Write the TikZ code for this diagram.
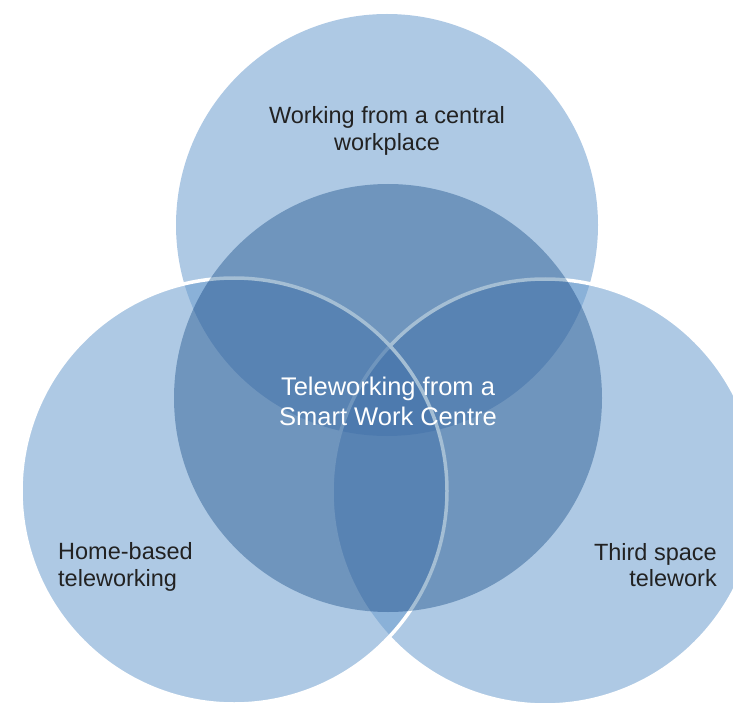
\documentclass[tikz,border=0pt]{standalone}
\usepackage{fontspec}
\setmainfont{Liberation Sans}
\definecolor{outerc}{RGB}{108,157,206}
\definecolor{centerc}{RGB}{164,190,212}
\definecolor{labelc}{RGB}{34,34,34}
\begin{document}
\begin{tikzpicture}[x=1pt,y=-1pt,
  outer/.style={circle, inner sep=0pt, minimum size=426pt, fill=outerc, fill opacity=0.55},
  ring/.style={draw=white, line width=3.5pt},
  centre/.style={circle, inner sep=0pt, minimum size=428pt, fill=centerc},
  lbl/.style={text=labelc, font=\fontsize{23.5}{26.5}\selectfont, inner sep=0pt},
  clbl/.style={text=white, font=\fontsize{25.5}{30}\selectfont, inner sep=0pt, align=center}]
\useasboundingbox (0,0) rectangle (733,703);
\node[outer, minimum size=422pt] (work) at (387,225) {};
\node[outer, ring] (third) at (545,492) {};
\node[outer, ring] (home) at (234,491) {};
\begin{scope}[blend mode=multiply]
\node[centre] (smart) at (388,398) {};
\end{scope}
\node[lbl, align=center] (workt) at (387,131) {Working from a central\\workplace};
\node[clbl] (smartt) at (388,401) {Teleworking from a\\Smart Work Centre};
\node[lbl, align=left, anchor=west] (homet) at (58,567) {Home-based\\teleworking};
\node[lbl, align=right, anchor=east] (thirdt) at (717,565) {Third space\\telework};
\end{tikzpicture}
\end{document}
